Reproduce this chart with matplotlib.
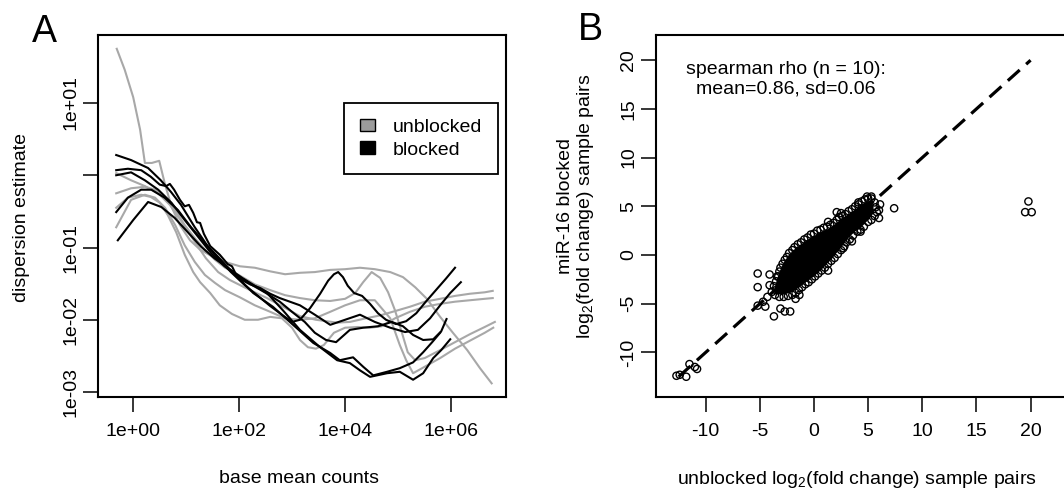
import numpy as np
import matplotlib.pyplot as plt
from matplotlib.patches import Patch, Polygon
from matplotlib.ticker import NullLocator

plt.rcParams['font.family'] = ['Liberation Sans', 'DejaVu Sans']
plt.rcParams['axes.unicode_minus'] = False
plt.rcParams['mathtext.default'] = 'regular'

GRAY = '#a8a8a8'

# ---- panel A : log10(base mean count) vs log10(dispersion fit), one curve per sample
unb1_x = [-0.31, -0.03, 0.23, 0.48, 0.70, 0.93, 1.15, 1.38, 1.61, 1.83, 2.02, 2.21, 2.53, 2.83, 3.15, 3.45, 3.85, 4.09, 4.39, 4.66, 4.94, 5.22, 5.50, 5.79, 6.07, 6.35, 6.63, 6.78]
unb1_y = [0.03, -0.07, -0.15, -0.25, -0.41, -0.65, -0.90, -1.15, -1.34, -1.45, -1.52, -1.59, -1.70, -1.82, -1.95, -2.00, -2.04, -2.03, -1.98, -1.94, -1.88, -1.82, -1.75, -1.71, -1.67, -1.64, -1.62, -1.60]

unb2_x = [-0.31, -0.09, 0.16, 0.34, 0.51, 0.66, 0.82, 0.98, 1.14, 1.27, 1.46, 1.64, 1.87, 2.11, 2.36, 2.59, 2.81, 3.00, 3.15, 3.30, 3.45, 3.60, 3.79, 4.00, 4.24, 4.47, 4.69, 4.94, 5.22, 5.50, 5.79, 6.07, 6.35, 6.63, 6.78]
unb2_y = [-0.45, -0.31, -0.27, -0.30, -0.38, -0.55, -0.79, -1.10, -1.34, -1.48, -1.63, -1.80, -1.92, -2.00, -2.00, -1.96, -1.98, -2.11, -2.28, -2.38, -2.40, -2.35, -2.18, -2.11, -2.10, -2.11, -2.09, -1.98, -1.89, -1.82, -1.78, -1.75, -1.73, -1.71, -1.70]

unb3_x = [-0.31, -0.03, 0.23, 0.42, 0.61, 0.80, 0.98, 1.17, 1.36, 1.55, 1.74, 2.02, 2.30, 2.59, 2.87, 3.15, 3.43, 3.72, 4.00, 4.19, 4.34, 4.50, 4.66, 4.81, 4.94, 5.07, 5.18, 5.32, 5.50, 5.79, 6.07, 6.35, 6.63, 6.82]
unb3_y = [-0.25, -0.18, -0.16, -0.20, -0.31, -0.48, -0.69, -0.87, -1.03, -1.17, -1.28, -1.39, -1.51, -1.59, -1.66, -1.70, -1.73, -1.74, -1.71, -1.63, -1.48, -1.34, -1.42, -1.62, -1.87, -2.18, -2.45, -2.56, -2.53, -2.42, -2.31, -2.20, -2.10, -2.03]

unb4_x = [-0.31, -0.03, 0.23, 0.42, 0.61, 0.80, 0.98, 1.17, 1.36, 1.55, 1.74, 2.02, 2.30, 2.59, 2.87, 3.15, 3.43, 3.72, 4.00, 4.28, 4.56, 4.85, 5.03, 5.15, 5.28, 5.50, 5.79, 6.07, 6.35, 6.63, 6.79]
unb4_y = [-0.72, -0.34, -0.27, -0.31, -0.45, -0.69, -0.97, -1.20, -1.38, -1.49, -1.59, -1.69, -1.80, -1.89, -1.98, -2.00, -1.98, -1.89, -1.80, -1.73, -1.73, -1.98, -2.35, -2.56, -2.74, -2.65, -2.53, -2.40, -2.29, -2.18, -2.11]

unb5_x = [-0.30, -0.15, 0.01, 0.14, 0.23, 0.36, 0.50, 0.61, 0.74, 0.89, 1.08, 1.27, 1.49, 1.74, 2.02, 2.30, 2.59, 2.87, 3.15, 3.43, 3.72, 4.00, 4.28, 4.56, 4.85, 5.09, 5.32, 5.54, 5.79, 6.03, 6.30, 6.54, 6.76]
unb5_y = [1.75, 1.46, 1.08, 0.63, 0.17, 0.17, 0.20, -0.13, -0.45, -0.69, -0.90, -1.03, -1.12, -1.20, -1.26, -1.28, -1.33, -1.37, -1.35, -1.34, -1.31, -1.30, -1.28, -1.30, -1.34, -1.41, -1.55, -1.71, -1.96, -2.18, -2.42, -2.67, -2.88]

blk1_x = [-0.31, -0.03, 0.29, 0.53, 0.72, 0.91, 1.17, 1.42, 1.61, 1.85, 2.11, 2.36, 2.59, 2.81, 3.00, 3.15, 3.34, 3.53, 3.68, 3.79, 3.87, 3.96, 4.05, 4.17, 4.32, 4.47, 4.62, 4.77, 4.96, 5.15, 5.34, 5.52, 5.71, 5.90, 6.07]
blk1_y = [0.28, 0.21, 0.10, -0.07, -0.23, -0.41, -0.72, -0.99, -1.15, -1.34, -1.52, -1.67, -1.81, -1.93, -2.03, -2.00, -1.84, -1.64, -1.46, -1.37, -1.34, -1.41, -1.53, -1.63, -1.67, -1.78, -1.91, -2.00, -2.06, -2.02, -1.91, -1.75, -1.59, -1.43, -1.28]

blk2_x = [-0.31, -0.09, 0.16, 0.34, 0.51, 0.63, 0.70, 0.78, 0.89, 0.98, 1.06, 1.14, 1.21, 1.27, 1.34, 1.46, 1.64, 1.79, 1.87, 1.95, 2.06, 2.21, 2.40, 2.59, 2.77, 2.96, 3.15, 3.43, 3.72, 4.00, 4.28, 4.56, 4.85, 5.13, 5.37, 5.60, 5.79, 5.98, 6.18]
blk2_y = [0.07, 0.09, 0.07, -0.02, -0.13, -0.15, -0.12, -0.20, -0.34, -0.43, -0.41, -0.52, -0.65, -0.66, -0.81, -0.98, -1.10, -1.23, -1.26, -1.38, -1.45, -1.51, -1.56, -1.64, -1.70, -1.75, -1.80, -1.93, -2.07, -2.00, -1.93, -2.03, -2.11, -2.17, -2.14, -1.98, -1.80, -1.63, -1.48]

blk3_x = [-0.31, -0.03, 0.23, 0.48, 0.73, 0.98, 1.23, 1.48, 1.73, 1.98, 2.25, 2.51, 2.77, 3.00, 3.24, 3.43, 3.64, 3.83, 4.09, 4.34, 4.62, 4.88, 5.09, 5.28, 5.47, 5.66, 5.81, 5.91]
blk3_y = [0.00, 0.04, -0.07, -0.20, -0.38, -0.62, -0.85, -1.08, -1.26, -1.39, -1.52, -1.63, -1.75, -1.89, -2.03, -2.18, -2.28, -2.31, -2.14, -2.11, -2.09, -2.03, -2.09, -2.21, -2.28, -2.27, -2.16, -1.99]

blk4_x = [-0.31, -0.09, 0.16, 0.35, 0.60, 0.85, 1.10, 1.36, 1.61, 1.89, 2.27, 2.64, 3.02, 3.40, 3.72, 3.90, 4.15, 4.34, 4.53, 4.79, 5.03, 5.28, 5.47, 5.64, 5.79]
blk4_y = [-0.51, -0.31, -0.20, -0.20, -0.31, -0.48, -0.72, -0.94, -1.13, -1.35, -1.63, -1.82, -2.07, -2.32, -2.46, -2.56, -2.52, -2.65, -2.77, -2.72, -2.67, -2.59, -2.45, -2.31, -2.18]

blk5_x = [-0.28, 0.01, 0.29, 0.54, 0.79, 1.04, 1.29, 1.54, 1.79, 2.06, 2.30, 2.53, 2.83, 3.15, 3.53, 3.85, 4.09, 4.28, 4.47, 4.79, 5.03, 5.28, 5.47, 5.66, 5.81, 5.98]
blk5_y = [-0.90, -0.62, -0.37, -0.44, -0.59, -0.79, -0.99, -1.15, -1.28, -1.42, -1.53, -1.63, -1.87, -2.14, -2.38, -2.56, -2.60, -2.70, -2.79, -2.74, -2.72, -2.83, -2.74, -2.53, -2.42, -2.27]

unblocked = [(unb1_x, unb1_y), (unb2_x, unb2_y), (unb3_x, unb3_y), (unb4_x, unb4_y), (unb5_x, unb5_y)]
blocked = [(blk1_x, blk1_y), (blk2_x, blk2_y), (blk3_x, blk3_y), (blk4_x, blk4_y), (blk5_x, blk5_y)]

# ---- panel B : log2 fold changes, unblocked vs blocked
fc_unblocked = [-3.9, -3.7, -3.5, -3.4, -3.2, -3.1, -2.9, -2.7, -2.5, -2.3, -2.0, -1.8, -1.5, -1.2, -0.9, -0.6, -0.3, 0.0,
                0.3, 0.6, 0.9, 1.2, 1.5, 1.8, 2.1, 2.3, 2.6, 2.9, 3.2, 3.5, 3.8, 4.1, 4.4, 4.7, 5.0, 5.3,
                1.3, 2.1, 2.5, 4.1, 4.9, 5.3,
                5.6, 5.7, 5.8, 5.6, 5.3, 5.0, 4.6, 4.3, 4.0, 3.6, 3.3, 3.0, 2.8, 2.5, 2.2, 1.9, 1.6, 1.3, 1.0, 0.7,
                0.4, 0.1, -0.2, -0.5, -0.8, -1.1, -1.4, -1.7, -2.0, -2.4, -2.8, -3.2, -3.6,
                7.4, 6.1, 6.0, 6.0, 4.3, 3.5, 2.7, 1.3, -1.35, -1.7, -2.2, -2.7, -3.1, -3.7, -4.5, -5.2, -5.2, -5.2,
                -4.1, -4.1, -3.3, -3.5, -4.3, -4.7, 19.8, 19.5, 20.1, -12.7, -12.4, -11.8, -11.5, -11.0, -10.8]
fc_blocked = [-3.8, -3.2, -2.7, -2.2, -1.7, -1.3, -0.9, -0.5, -0.2, 0.2, 0.5, 0.8, 1.1, 1.3, 1.6, 1.8, 2.1, 2.2,
              2.5, 2.6, 2.8, 2.9, 3.1, 3.3, 3.6, 3.9, 4.0, 4.2, 4.5, 4.7, 5.0, 5.2, 5.5, 5.7, 5.8, 5.8,
              3.4, 4.4, 4.3, 5.4, 6.0, 6.0,
              5.4, 4.9, 4.4, 4.0, 3.6, 3.4, 2.9, 2.6, 2.4, 2.0, 1.6, 1.3, 0.9, 0.5, 0.1, -0.3, -0.6, -0.9, -1.3, -1.6,
              -1.9, -2.2, -2.5, -2.8, -3.0, -3.3, -3.6, -3.9, -4.1, -4.2, -4.3, -4.3, -4.1,
              4.8, 5.2, 3.8, 4.6, 2.4, 1.4, 0.7, -1.6, -4.1, -4.5, -5.8, -5.8, -5.5, -6.3, -5.3, -5.2, -3.3, -1.9,
              -2.0, -3.1, -2.2, -3.6, -4.3, -4.8, 5.5, 4.4, 4.4, -12.4, -12.3, -12.5, -11.2, -11.5, -11.7]

# outline of the fully overplotted (solid black) centre of the cloud
core_x = [-3.7, -3.4, -3.1, -2.8, -2.4, -1.9, -1.3, -0.7, 0.0, 0.6, 1.3, 2.0, 2.5, 3.2, 3.9, 4.5, 5.2,
          5.5, 5.5, 5.1, 4.5, 3.9, 3.3, 2.8, 2.3, 1.8, 1.3, 0.7, 0.1, -0.5, -1.1, -1.7, -2.3, -2.9, -3.4]
core_y = [-3.7, -2.4, -1.5, -0.8, -0.1, 0.5, 1.0, 1.5, 1.95, 2.35, 2.65, 3.2, 3.7, 4.2, 4.75, 5.25, 5.5,
          5.0, 4.3, 3.7, 3.0, 2.5, 1.9, 1.2, 0.5, -0.2, -0.8, -1.5, -2.1, -2.6, -3.1, -3.6, -3.9, -4.1, -4.0]

diag = [-12.5, 20.0]
a_xticks = [1e0, 1e2, 1e4, 1e6]
a_xlabels = ['1e+00', '1e+02', '1e+04', '1e+06']
a_yticks = [1e1, 1e0, 1e-1, 1e-2, 1e-3]
a_ylabels = ['1e+01', '', '1e-01', '1e-02', '1e-03']
b_ticks = [-10, -5, 0, 5, 10, 15, 20]

fig = plt.figure(figsize=(10.64, 4.9), dpi=100)
W, H = 1064.0, 490.0


def style_axes(ax):
    for s in ax.spines.values():
        s.set_linewidth(1.5)
    ax.tick_params(direction='out', length=11, width=1.1, labelsize=14, colors='black')
    ax.tick_params(axis='x', pad=8)
    ax.tick_params(axis='y', pad=2.5)
    for t in ax.get_yticklabels():
        t.set_rotation(90)
        t.set_va('center')


# ---------------- panel A
axA = fig.add_axes([98 / W, 93 / H, 408 / W, 362 / H])
for xs, ys in unblocked:
    axA.plot(10 ** np.array(xs), 10 ** np.array(ys), color=GRAY, lw=1.5)
for xs, ys in blocked:
    axA.plot(10 ** np.array(xs), 10 ** np.array(ys), color='black', lw=1.5)
axA.set_xscale('log')
axA.set_yscale('log')
axA.set_xlim(10 ** -0.653, 10 ** 7.03)
axA.set_ylim(10 ** -3.069, 10 ** 1.941)
axA.set_xticks(a_xticks)
axA.set_xticklabels(a_xlabels)
axA.set_yticks(a_yticks)
axA.set_yticklabels(a_ylabels)
axA.xaxis.set_minor_locator(NullLocator())
axA.yaxis.set_minor_locator(NullLocator())
style_axes(axA)

handles = [Patch(facecolor='#9c9c9c', edgecolor='black', linewidth=1.0, label='unblocked'),
           Patch(facecolor='black', edgecolor='black', linewidth=1.0, label='blocked')]
leg = axA.legend(handles=handles, loc='upper left', bbox_to_anchor=(0.603, 0.812), borderaxespad=0,
                 fontsize=14, frameon=True, fancybox=False, framealpha=1, edgecolor='black',
                 handlelength=0.8, handleheight=0.6, handletextpad=0.9, labelspacing=0.3, borderpad=0.8)
leg.get_frame().set_linewidth(1.3)

fig.text(21.7 / W, 1 - 217.5 / H, 'dispersion estimate', rotation=90, ha='center', va='center', fontsize=14)
fig.text(299 / W, 3 / H, 'base mean counts', ha='center', va='bottom', fontsize=14)
fig.text(44 / W, 1 - 41.7 / H, 'A', ha='center', va='baseline', fontsize=27)

# ---------------- panel B
axB = fig.add_axes([656 / W, 93 / H, 414 / W, 362 / H])
axB.add_patch(Polygon(np.column_stack([core_x, core_y]), closed=True, facecolor='black',
                      edgecolor='none', zorder=2))
axB.plot(diag, diag, color='black', lw=2.3, dashes=(5, 2.7), zorder=1)
axB.scatter(fc_unblocked, fc_blocked, s=27, facecolors='none', edgecolors='black', linewidths=1.0, zorder=3)
axB.set_xlim(-14.59, 23.64)
axB.set_ylim(-14.58, 22.59)
axB.set_xticks(b_ticks)
axB.set_yticks(b_ticks)
style_axes(axB)

axB.text(-2.63, 19.0, 'spearman rho (n = 10):', ha='center', va='center', fontsize=14)
axB.text(-2.63, 17.0, 'mean=0.86, sd=0.06', ha='center', va='center', fontsize=14)

fig.text(565 / W, 1 - 206 / H, 'miR-16 blocked', rotation=90, ha='center', va='center', fontsize=14)
fig.text(585 / W, 1 - 206 / H, 'log$_2$(fold change) sample pairs', rotation=90, ha='center', va='center', fontsize=14)
fig.text(857 / W, 6 / H, 'unblocked log$_2$(fold change) sample pairs', ha='center', va='baseline', fontsize=14)
fig.text(590 / W, 1 - 40 / H, 'B', ha='center', va='baseline', fontsize=27)

fig.savefig('out.png', dpi=100)
